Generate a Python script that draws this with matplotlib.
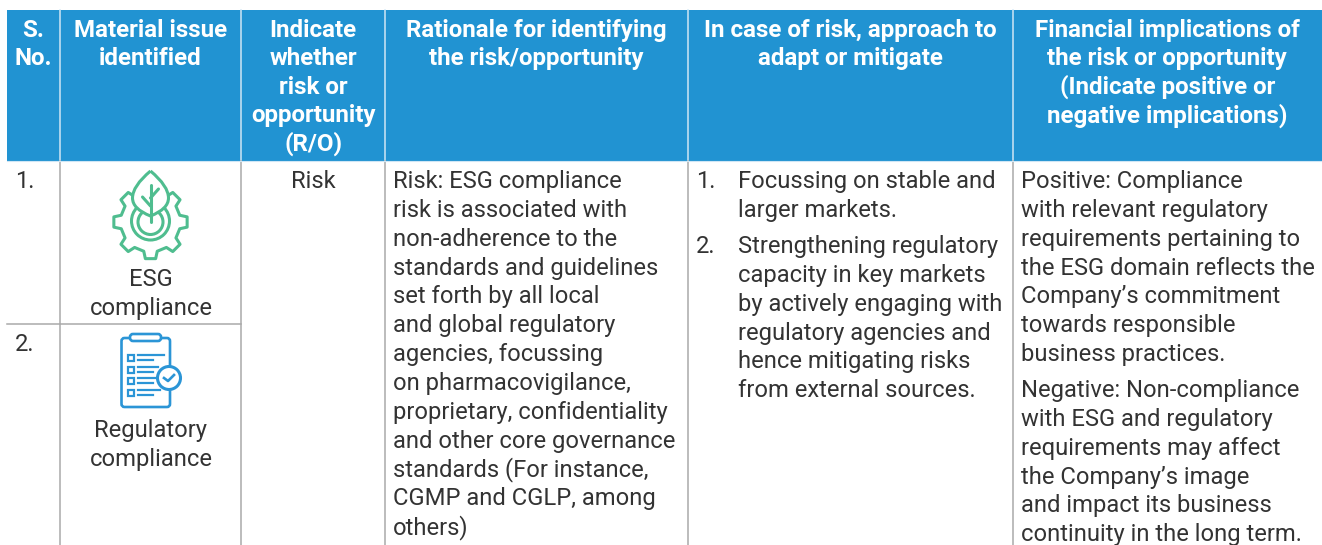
import numpy as np
import matplotlib
matplotlib.use("Agg")
import matplotlib.pyplot as plt
from matplotlib.patches import Rectangle, Circle, FancyBboxPatch, PathPatch, Polygon
from matplotlib.path import Path

W, H = 1322, 545
BLUE = "#2193d2"; GREEN = "#4fbd8f"; ICON = "#2b95d6"; TXT = "#333333"; GRID = "#a9a9a9"

col_edges = [7, 60, 241, 385.3, 687.5, 1012.7, 1322]
headers = [
    ["S.", "No."],
    ["Material issue", "identified"],
    ["Indicate", "whether", "risk or", "opportunity", "(R/O)"],
    ["Rationale for identifying", "the risk/opportunity"],
    ["In case of risk, approach to", "adapt or mitigate"],
    ["Financial implications of", "the risk or opportunity", "(Indicate positive or", "negative implications)"],
]
serials = ["1.", "2."]
issues = [["ESG", "compliance"], ["Regulatory", "compliance"]]
risk_label = "Risk"
rationale = ["Risk: ESG compliance", "risk is associated with", "non-adherence to the",
             "standards and guidelines", "set forth by all local", "and global regulatory",
             "agencies, focussing", "on pharmacovigilance,", "proprietary, confidentiality",
             "and other core governance", "standards (For instance,", "CGMP and CGLP, among", "others)"]
mitigation = [("1.", ["Focussing on stable and", "larger markets."]),
              ("2.", ["Strengthening regulatory", "capacity in key markets", "by actively engaging with",
                      "regulatory agencies and", "hence mitigating risks", "from external sources."])]
positive = ["Positive: Compliance", "with relevant regulatory", "requirements pertaining to",
            "the ESG domain reflects the", "Company’s commitment", "towards responsible", "business practices."]
negative = ["Negative: Non-compliance", "with ESG and regulatory", "requirements may affect",
            "the Company’s image", "and impact its business", "continuity in the long term."]

plt.rcParams["font.family"] = ["Roboto", "DejaVu Sans"]
fig = plt.figure(figsize=(W/100, H/100), dpi=100, facecolor="white")
ax = fig.add_axes([0, 0, 1, 1])
ax.set_xlim(0, W); ax.set_ylim(H, 0); ax.axis("off")

HS, BS = 17.35, 17.1
LH, LB = 28.5, 28.85
HEAD_TOP, HEAD_BOT = 10, 161

ax.add_patch(Rectangle((7, HEAD_TOP), W-7, HEAD_BOT-HEAD_TOP, fc=BLUE, ec="none"))
for x in col_edges[1:-1]:
    ax.plot([x, x], [HEAD_TOP, HEAD_BOT], color="#cfe6f5", lw=1.1)
    ax.plot([x, x], [HEAD_BOT, H], color=GRID, lw=1.1)
ax.plot([7, W], [HEAD_BOT, HEAD_BOT], color="#cfe6f5", lw=0.8)
ax.plot([7, 241], [324, 324], color=GRID, lw=1.1)

for i, lines in enumerate(headers):
    cx = (col_edges[i] + col_edges[i+1]) / 2
    for j, s in enumerate(lines):
        ax.text(cx, 36.8 + j*LH, s, color="white", fontsize=HS, fontweight="bold", ha="center", va="baseline")

def body(x, y, s, ha="left"):
    ax.text(x, y, s, color=TXT, fontsize=BS, ha=ha, va="baseline", fontweight="normal")

def block(x, y, lines):
    for j, s in enumerate(lines):
        body(x, y + j*LB, s)

body(15, 188, serials[0]); body(15, 351, serials[1])
for j, s in enumerate(issues[0]):
    body(151, 286 + j*LB, s, "center")
for j, s in enumerate(issues[1]):
    body(151, 437 + j*LB, s, "center")
body(313, 188, risk_label, "center")
block(393, 188, rationale)
body(696, 188, mitigation[0][0]); block(738, 188, mitigation[0][1])
body(696, 253, mitigation[1][0]); block(738, 253, mitigation[1][1])
block(1021, 188, positive)
block(1021, 397, negative)

# ESG icon: gear outline with leaf
cx, cy = 150.5, 222
pts = []
for k in range(8):
    a0 = np.deg2rad(k*45)
    for da, r in [(-13, 30), (-8, 37), (8, 37), (13, 30)]:
        a = a0 + np.deg2rad(da)
        pts.append((cx + r*np.cos(a), cy + r*np.sin(a)))
ax.add_patch(Polygon(pts, closed=True, fc="white", ec=GREEN, lw=2.2, joinstyle="round"))
ax.add_patch(Circle((cx, cy-1), 19, fc="white", ec=GREEN, lw=2.2))
ax.add_patch(Circle((cx, cy), 12.5, fc="white", ec=GREEN, lw=2.2))
leaf = Path([(cx, 171), (cx-18, 186), (cx-18, 198), (cx-18, 209), (cx, 216), (cx+18, 209), (cx+18, 198), (cx+18, 186), (cx, 171)],
            [Path.MOVETO] + [Path.CURVE3]*8)
ax.add_patch(PathPatch(leaf, fc="white", ec=GREEN, lw=2.2))
ax.plot([cx, cx], [185, 222], color=GREEN, lw=2.2, solid_capstyle="round")
ax.plot([cx, cx+8], [198, 189], color=GREEN, lw=2.2, solid_capstyle="round")
ax.plot([cx, cx-8], [206, 197], color=GREEN, lw=2.2, solid_capstyle="round")

# Clipboard icon
ax.add_patch(FancyBboxPatch((121.5, 338), 48.5, 69, boxstyle="round,pad=0,rounding_size=3", fc="white", ec=ICON, lw=1.9))
ax.add_patch(FancyBboxPatch((130, 334), 31, 7, boxstyle="round,pad=0,rounding_size=3", fc="white", ec=ICON, lw=1.9))
rows = [358, 369.5, 381, 393]
for y, l1, l2 in zip(rows, [164, 158, 155, 160], [153, 153, 153, 153]):
    ax.add_patch(Rectangle((127.5, y-3), 6, 6, fc="white", ec=ICON, lw=1.6))
    ax.plot([138, l1], [y-3, y-3], color=ICON, lw=1.6)
    ax.plot([138, l2], [y+2, y+2], color=ICON, lw=1.6)
ax.add_patch(Circle((169, 378), 11.5, fc="white", ec=ICON, lw=2.2))
ax.plot([164, 168, 174], [378, 381, 375], color=ICON, lw=1.9)

fig.savefig("out.png", dpi=100, facecolor="white")
